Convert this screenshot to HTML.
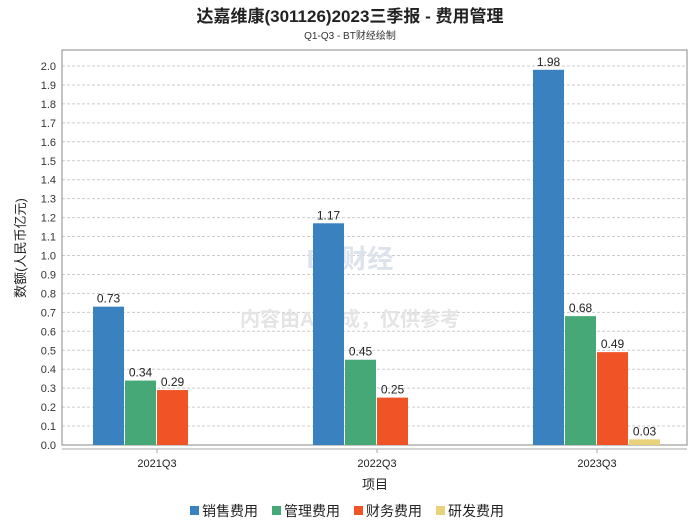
<!DOCTYPE html>
<html><head><meta charset="utf-8"><style>
body{margin:0;background:#fff;font-family:"Liberation Sans","Noto Sans CJK SC",sans-serif}
</style></head><body>
<svg width="700" height="524" xmlns="http://www.w3.org/2000/svg" font-family="Liberation Sans, Noto Sans CJK SC, sans-serif">
<text x="350" y="22" text-anchor="middle" font-size="17" font-weight="bold" fill="#222">达嘉维康(301126)2023三季报 - 费用管理</text>
<text x="350" y="39" text-anchor="middle" font-size="10" fill="#333">Q1-Q3 - BT财经绘制</text>
<g id="grid"></g>
<rect x="62" y="50" width="625" height="395" fill="none" stroke="#888"/>
<line x1="62" y1="449" x2="687" y2="449" stroke="#aaa"/>
<text x="350" y="268" text-anchor="middle" font-size="26" font-weight="bold" fill="#dde3ec">BT财经</text>
<text x="350" y="326" text-anchor="middle" font-size="20" font-weight="bold" fill="#e4e4e4">内容由AI生成，仅供参考</text>
<g id="bars"></g>
<text x="25" y="248" text-anchor="middle" font-size="13" fill="#222" transform="rotate(-90 25 248)">数额(人民币亿元)</text>
<text x="375" y="489" text-anchor="middle" font-size="13" fill="#222">项目</text>
<g id="legend"></g>
</svg>
<script>
const categories=["2021Q3","2022Q3","2023Q3"];
const seriesNames=["销售费用","管理费用","财务费用","研发费用"];
const colors=["#3a81bf","#45a876","#f05326","#e8d27a"];
const sales=[0.73,1.17,1.98];
const admin=[0.34,0.45,0.68];
const finance=[0.29,0.25,0.49];
const rnd=[null,null,0.03];
const yTicks=[0,0.1,0.2,0.3,0.4,0.5,0.6,0.7,0.8,0.9,1.0,1.1,1.2,1.3,1.4,1.5,1.6,1.7,1.8,1.9,2.0];
const series=[sales,admin,finance,rnd];
const NS="http://www.w3.org/2000/svg";
const y=v=>445-v*189.5;
const xc=i=>157+i*220;
function mk(t,a,p){const e=document.createElementNS(NS,t);for(const k in a)e.setAttribute(k,a[k]);p.appendChild(e);return e;}
const grid=document.getElementById('grid');
yTicks.forEach(t=>{
  const l=mk('line',{x1:62,x2:687,y1:y(t),y2:y(t),stroke:'#ccc','stroke-dasharray':'3,2'},grid);
  
  
  const tx=mk('text',{x:56,y:y(t)+4,'text-anchor':'end','font-size':11,fill:'#333'},grid);
  tx.textContent=t.toFixed(1);
  
  
});
const bars=document.getElementById('bars');
categories.forEach((c,i)=>{
  const tk=mk('line',{x1:xc(i),x2:xc(i),y1:449,y2:453,stroke:'#aaa'},bars);
  
  
  const t=mk('text',{x:xc(i),y:467,'text-anchor':'middle','font-size':11,fill:'#222'},bars);
  t.textContent=c;
  
  
  series.forEach((s,j)=>{
    const v=s[i];if(v==null)return;
    const x=xc(i)-64+32*j;
    const r=mk('rect',{x:x,y:y(v),width:31,height:445-y(v),fill:colors[j]},bars);
    
    
    const l=mk('text',{x:x+15.5,y:y(v)-4,'text-anchor':'middle','font-size':12,fill:'#222'},bars);
    l.textContent=v.toFixed(2);
    
    
  });
});
const lg=document.getElementById('legend');
const lx=[190,272,354,436];
seriesNames.forEach((n,j)=>{
  const g=mk('g',{},lg);
  
  
  mk('rect',{x:lx[j],y:506,width:9,height:9,fill:colors[j]},g);
  const t=mk('text',{x:lx[j]+12,y:516,'font-size':14,fill:'#222'},g);
  t.textContent=n;
});
</script>
</body></html>
